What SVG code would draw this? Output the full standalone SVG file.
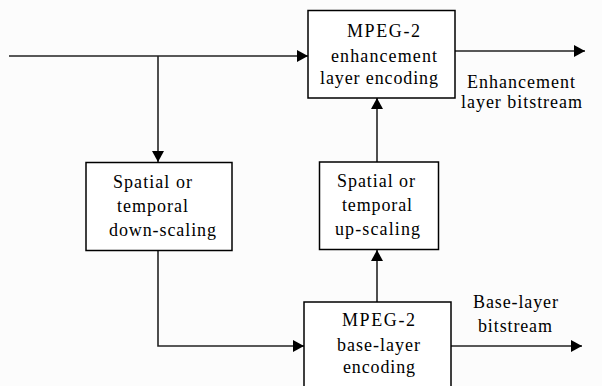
<svg xmlns="http://www.w3.org/2000/svg" width="602" height="386" viewBox="0 0 602 386" font-family="Liberation Serif" font-size="18">
<style>
.box{fill:#ffffff;stroke:#000;stroke-width:1.5}
.ln{fill:none;stroke:#222;stroke-width:1.6}
</style>
<defs>
<marker id="ah" markerUnits="userSpaceOnUse" markerWidth="12" markerHeight="12" refX="11" refY="6" orient="auto">
<path d="M0,0 L11,6 L0,12 z" fill="#000"/>
</marker>
</defs>
<rect x="0" y="0" width="602" height="386" fill="#fcfcfc"/>
<g id="connectors">
<path class="ln" d="M9,56 L308,56" marker-end="url(#ah)"/>
<path class="ln" d="M158,56 L158,162" marker-end="url(#ah)"/>
<path class="ln" d="M455,51 L585,51" marker-end="url(#ah)"/>
<path class="ln" d="M377,162 L377,98" marker-end="url(#ah)"/>
<path class="ln" d="M377,302 L377,250" marker-end="url(#ah)"/>
<path class="ln" d="M158,251 L158,346 L304,346" marker-end="url(#ah)"/>
<path class="ln" d="M451,346 L582,346" marker-end="url(#ah)"/>
</g>
<g id="enh">
<rect class="box" x="308" y="10.5" width="147" height="87.5"/>
<text x="347" y="37" textLength="73" lengthAdjust="spacing">MPEG-2</text>
<text x="331" y="62" textLength="106" lengthAdjust="spacing">enhancement</text>
<text x="320" y="84" textLength="118" lengthAdjust="spacing">layer encoding</text>
</g>
<g id="enh-label">
<text x="467" y="88" textLength="108" lengthAdjust="spacing">Enhancement</text>
<text x="461" y="108" textLength="121" lengthAdjust="spacing">layer bitstream</text>
</g>
<g id="down">
<rect class="box" x="86" y="162.5" width="146" height="88"/>
<text x="113" y="188" textLength="79" lengthAdjust="spacing">Spatial or</text>
<text x="117" y="212" textLength="71" lengthAdjust="spacing">temporal</text>
<text x="109" y="236" textLength="107" lengthAdjust="spacing">down-scaling</text>
</g>
<g id="up">
<rect class="box" x="319.5" y="162" width="119" height="87.5"/>
<text x="337" y="187" textLength="78" lengthAdjust="spacing">Spatial or</text>
<text x="342" y="211" textLength="70" lengthAdjust="spacing">temporal</text>
<text x="335" y="235" textLength="85" lengthAdjust="spacing">up-scaling</text>
</g>
<g id="base">
<rect class="box" x="304" y="302" width="147" height="100"/>
<text x="342" y="326" textLength="73" lengthAdjust="spacing">MPEG-2</text>
<text x="337" y="351" textLength="83" lengthAdjust="spacing">base-layer</text>
<text x="343" y="373" textLength="72" lengthAdjust="spacing">encoding</text>
</g>
<g id="base-label">
<text x="473" y="308" textLength="85" lengthAdjust="spacing">Base-layer</text>
<text x="478" y="332" textLength="74" lengthAdjust="spacing">bitstream</text>
</g>
</svg>
